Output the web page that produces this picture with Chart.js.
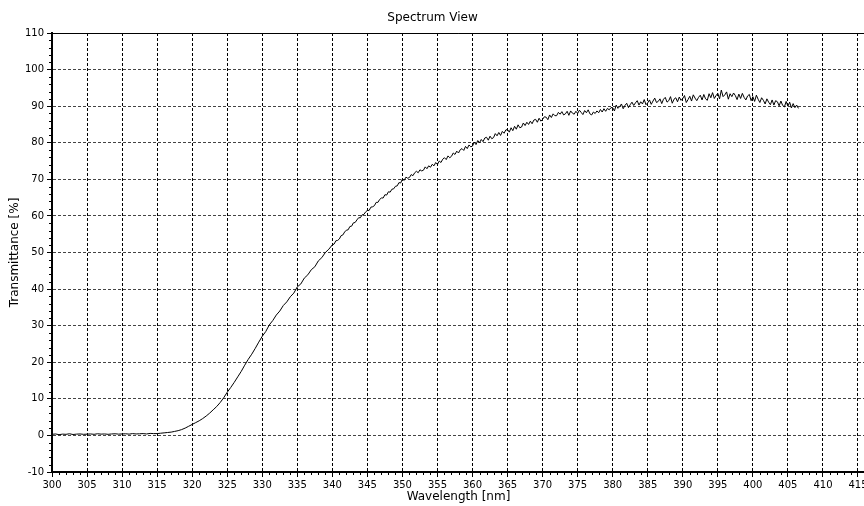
<!DOCTYPE html>
<html>
<head>
<meta charset="utf-8">
<title>Spectrum View</title>
<script src="https://cdn.jsdelivr.net/npm/chart.js@4"></script>
<style>
    html, body { margin: 0; padding: 0; background: #fff; overflow: hidden; }
    #wrap { width: 900px; height: 506px; }
</style>
</head>
<body>
<div id="wrap"><canvas id="spectrumChart"></canvas></div>
<script>
// Transmittance [%].
// Rising edge: one value per 0.5 nm, 300 .. 339.5 nm
const edgeStartNm = 300;
const edgeStepNm = 0.5;
const edgeT = [
    // 300 - 309.5
    0.3, 0.4, 0.2, 0.35, 0.3, 0.45, 0.25, 0.35, 0.4, 0.3, 0.35, 0.4, 0.3, 0.45, 0.35, 0.4, 0.3, 0.4, 0.45, 0.35,
    // 310 - 319.5
    0.4, 0.45, 0.35, 0.5, 0.4, 0.45, 0.5, 0.4, 0.55, 0.5, 0.5, 0.6, 0.7, 0.8, 0.9, 1.1, 1.3, 1.6, 2.0, 2.5,
    // 320 - 329.5
    3.0, 3.5, 4.0, 4.6, 5.3, 6.1, 7.0, 7.9, 9.0, 10.3, 11.8, 13.1, 14.5, 16.0, 17.5, 19.2, 20.8, 22.2, 23.8, 25.5,
    // 330 - 339.5
    27.1, 28.4, 30.2, 31.4, 32.9, 34.0, 35.5, 36.5, 37.9, 38.9, 40.6, 41.4, 43.0, 43.9, 45.3, 46.1, 47.7, 48.6, 50.0, 50.9
];

// Noisy plateau: one value per 0.25 nm, 340 .. 406.5 nm (one row per nm)
const plateauStartNm = 340;
const plateauStepNm = 0.25;
const plateauT = [
    52.1, 52.3, 53.2, 53.3,   53.7, 54.6, 54.8, 55.6,   56.1, 56.2, 57.1, 57.2,   58.1, 58.2, 58.9, 59.5,   59.5, 60.3, 60.4, 61.1,
    61.5, 61.5, 62.4, 62.5,   62.8, 63.7, 63.7, 64.5,   64.9, 64.9, 65.8, 65.7,   66.6, 66.5, 67.3, 67.4,   68.1, 68.2, 69.1, 69.0,
    // 350 - 359
    70.1, 69.7, 70.6, 70.3,   70.5, 71.3, 71.0, 71.8,   72.2, 71.8, 72.6, 72.3,   72.5, 73.4, 72.9, 73.7,   73.3, 74.1, 73.7, 74.6,
    74.1, 75.0, 74.6, 75.5,   75.9, 75.4, 76.4, 75.9,   76.3, 77.2, 76.8, 77.7,   77.2, 78.1, 78.4, 77.9,   79.0, 78.4, 79.4, 78.9,
    // 360 - 369
    79.1, 80.2, 79.5, 80.6,   80.0, 80.9, 80.3, 81.3,   81.5, 80.7, 81.8, 81.1,   81.4, 82.5, 81.9, 82.8,   82.0, 83.1, 82.6, 83.5,
    83.6, 82.9, 84.1, 83.3,   84.5, 83.7, 84.9, 84.1,   84.3, 85.4, 84.7, 85.6,   85.0, 85.9, 85.2, 86.2,   86.4, 85.6, 86.7, 85.9,
    // 370 - 379
    86.4, 87.1, 87.0, 86.3,   87.6, 86.9, 87.9, 87.4,   87.4, 88.3, 87.8, 88.5,   87.6, 87.9, 88.6, 87.5,   88.7, 88.1, 87.8, 88.6,
    88.0, 88.9, 88.3, 87.7,   88.8, 88.2, 89.0, 87.9,   87.6, 88.4, 88.0, 88.7,   88.2, 89.1, 88.4, 89.3,   88.6, 89.4, 89.0, 89.6,
    // 380 - 389
    89.6, 88.7, 90.3, 89.4,   89.9, 90.6, 89.3, 90.2,   90.8, 89.6, 90.4, 91.1,   90.2, 90.9, 91.5, 90.3,   91.2, 90.6, 91.8, 90.4,
    90.9, 91.7, 90.5, 91.4,   92.2, 91.0, 91.3, 92.0,   90.7, 91.9, 92.4, 91.1,   91.5, 92.6, 90.8, 91.9,   92.3, 91.2, 92.5, 91.6,
    // 390 - 399
    92.1, 92.9, 91.0, 91.8,   92.7, 91.4, 93.1, 92.2,   91.5, 92.4, 93.0, 91.7,   93.2, 92.0, 91.6, 93.4,   92.3, 93.7, 92.1, 92.9,
    93.5, 92.0, 94.4, 92.6,   93.1, 93.9, 91.9, 93.4,   92.6, 93.6, 92.9, 91.8,   93.3, 92.1, 93.5, 92.4,   91.7, 92.8, 93.2, 91.5,
    // 400 - 406.5
    92.6, 91.3, 93.0, 91.9,   91.0, 92.3, 91.6, 90.6,   92.0, 91.1, 90.4, 91.7,   90.3, 91.5, 91.2, 90.1,   91.4, 90.2, 89.8, 91.3,
    90.0, 91.1, 89.5, 90.7,   89.6, 90.3, 89.4
];

// Axis ranges and tick steps
const xRange = [300, 416];
const xStep = 5;
const yRange = [-10, 110];
const yStep = 10;

const chartTitle = 'Spectrum View';
const xTitle = 'Wavelength [nm]';
const yTitle = 'Transmittance [%]';

const points = [
    ...edgeT.map((t, i) => ({ x: edgeStartNm + i * edgeStepNm, y: t })),
    ...plateauT.map((t, i) => ({ x: plateauStartNm + i * plateauStepNm, y: t }))
];

const FONT = "'DejaVu Sans', Verdana, sans-serif";

// Minor tick marks and the solid top frame line
const frameTicks = {
    id: 'frameTicks',
    afterDraw(chart) {
        const { ctx, chartArea, scales } = chart;
        const xs = scales.x, ys = scales.y;
        ctx.save();
        ctx.strokeStyle = '#000';
        ctx.lineWidth = 1;
        ctx.beginPath();
        for (let v = xRange[0]; v <= xRange[1]; v += 1) {
            if (v % xStep === 0) continue;
            const px = Math.round(xs.getPixelForValue(v)) + 0.5;
            ctx.moveTo(px, chartArea.bottom);
            ctx.lineTo(px, chartArea.bottom + 3);
        }
        for (let v = yRange[0]; v <= yRange[1]; v += 2) {
            if (v % yStep === 0) continue;
            const py = Math.round(ys.getPixelForValue(v)) + 0.5;
            ctx.moveTo(chartArea.left - 3, py);
            ctx.lineTo(chartArea.left, py);
        }
        ctx.moveTo(chartArea.left, Math.round(chartArea.top) + 0.5);
        ctx.lineTo(chartArea.right, Math.round(chartArea.top) + 0.5);
        ctx.stroke();
        ctx.restore();
    }
};

const ctx = document.getElementById('spectrumChart').getContext('2d');

new Chart(ctx, {
    type: 'line',
    data: {
        datasets: [{
            data: points,
            borderColor: '#000',
            borderWidth: 1,
            pointRadius: 0,
            tension: 0,
            fill: false
        }]
    },
    options: {
        responsive: true,
        maintainAspectRatio: false,
        animation: false,
        layout: { padding: { left: 0, right: 35, top: 0, bottom: 0 } },
        plugins: {
            legend: { display: false },
            tooltip: { enabled: false },
            title: {
                display: true,
                text: chartTitle,
                color: '#000',
                font: { family: FONT, size: 12, weight: 'normal' },
                padding: { top: 11, bottom: 7.6 }
            }
        },
        scales: {
            x: {
                type: 'linear',
                min: xRange[0],
                max: xRange[1],
                afterFit: s => { s.height = 34; },
                ticks: {
                    stepSize: xStep,
                    includeBounds: false,
                    autoSkip: false,
                    maxRotation: 0,
                    padding: 2,
                    color: '#000',
                    font: { family: FONT, size: 10 }
                },
                grid: {
                    color: '#000',
                    lineWidth: 1,
                    drawTicks: true,
                    tickLength: 5,
                    tickColor: '#000',
                    tickBorderDash: []
                },
                border: { display: true, color: '#000', width: 2, dash: [3, 2] },
                title: {
                    display: true,
                    text: xTitle,
                    color: '#000',
                    font: { family: FONT, size: 12 },
                    padding: { top: 0, bottom: 2 }
                }
            },
            y: {
                min: yRange[0],
                max: yRange[1],
                afterFit: s => { s.width = 52; },
                ticks: {
                    stepSize: yStep,
                    padding: 3,
                    color: '#000',
                    font: { family: FONT, size: 10 }
                },
                grid: {
                    color: '#444',
                    lineWidth: 1,
                    drawTicks: true,
                    tickLength: 5,
                    tickColor: '#000',
                    tickBorderDash: []
                },
                border: { display: true, color: '#000', width: 2, dash: [3, 2] },
                title: {
                    display: true,
                    text: yTitle,
                    color: '#000',
                    font: { family: FONT, size: 12 },
                    padding: { top: 8, bottom: 0 }
                }
            }
        }
    },
    plugins: [frameTicks]
});
</script>
</body>
</html>
